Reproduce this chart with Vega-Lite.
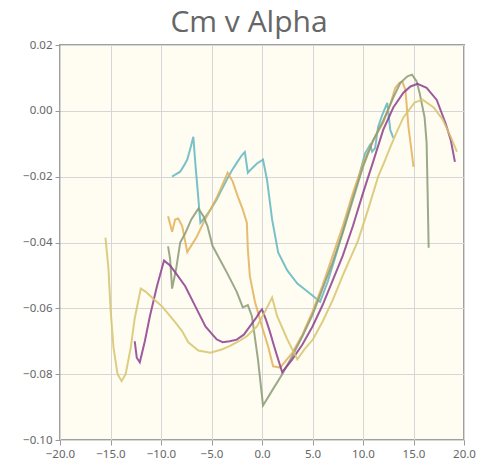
{
  "$schema": "https://vega.github.io/schema/vega-lite/v6.json",
  "width": 404,
  "height": 395,
  "autosize": {"type": "none"},
  "padding": {"left": 60, "top": 45, "right": 21, "bottom": 33},
  "background": "white",
  "title": {"text": "Cm v Alpha", "font": "Open Sans", "fontSize": 30, "fontWeight": "normal", "color": "#666666", "anchor": "middle", "frame": "bounds", "offset": 1},
  "config": {
    "view": {"fill": "#fffdf2", "stroke": "#a0a0a0", "strokeWidth": 2},
    "axis": {"labelFont": "Noto Sans", "labelFontSize": 11.5, "labelColor": "#666666", "gridColor": "#d6d6d6", "gridWidth": 1, "tickColor": "#999999", "tickSize": 5, "domain": false, "title": null, "labelPadding": 3, "labelOverlap": false, "labelBound": false, "labelFlush": false}
  },
  "datasets": {
    "d": [
      {"s":"T","a":-8.9,"cm":-0.0200},{"s":"T","a":-8.5,"cm":-0.0192},{"s":"T","a":-8.1,"cm":-0.0185},{"s":"T","a":-7.7,"cm":-0.0165},{"s":"T","a":-7.4,"cm":-0.0148},{"s":"T","a":-7.1,"cm":-0.0115},{"s":"T","a":-6.8,"cm":-0.0079},{"s":"T","a":-6.6,"cm":-0.0160},{"s":"T","a":-6.4,"cm":-0.0231},{"s":"T","a":-6.1,"cm":-0.0340},{"s":"T","a":-5.5,"cm":-0.0318},{"s":"T","a":-5.0,"cm":-0.0295},{"s":"T","a":-4.5,"cm":-0.0270},{"s":"T","a":-4.0,"cm":-0.0240},{"s":"T","a":-3.5,"cm":-0.0210},{"s":"T","a":-3.0,"cm":-0.0182},{"s":"T","a":-2.5,"cm":-0.0158},{"s":"T","a":-2.0,"cm":-0.0135},{"s":"T","a":-1.7,"cm":-0.0125},{"s":"T","a":-1.4,"cm":-0.0188},{"s":"T","a":-1.0,"cm":-0.0175},{"s":"T","a":-0.5,"cm":-0.0160},{"s":"T","a":0.1,"cm":-0.0148},{"s":"T","a":0.5,"cm":-0.0210},{"s":"T","a":1.0,"cm":-0.0330},{"s":"T","a":1.6,"cm":-0.0430},{"s":"T","a":2.5,"cm":-0.0485},{"s":"T","a":3.5,"cm":-0.0525},{"s":"T","a":4.75,"cm":-0.0555},{"s":"T","a":5.75,"cm":-0.0580},{"s":"T","a":6.5,"cm":-0.0520},{"s":"T","a":7.5,"cm":-0.0420},{"s":"T","a":8.5,"cm":-0.0310},{"s":"T","a":9.5,"cm":-0.0210},{"s":"T","a":10.2,"cm":-0.0130},{"s":"T","a":10.7,"cm":-0.0103},{"s":"T","a":10.9,"cm":-0.0124},{"s":"T","a":11.2,"cm":-0.0113},{"s":"T","a":11.5,"cm":-0.0048},{"s":"T","a":11.9,"cm":-0.0013},{"s":"T","a":12.4,"cm":0.0024},{"s":"T","a":12.7,"cm":-0.0058},{"s":"T","a":13.0,"cm":-0.0082},

      {"s":"G","a":-9.3,"cm":-0.0320},{"s":"G","a":-8.9,"cm":-0.0367},{"s":"G","a":-8.6,"cm":-0.0330},{"s":"G","a":-8.3,"cm":-0.0327},{"s":"G","a":-7.9,"cm":-0.0350},{"s":"G","a":-7.4,"cm":-0.0429},{"s":"G","a":-6.5,"cm":-0.0385},{"s":"G","a":-5.8,"cm":-0.0340},{"s":"G","a":-5.1,"cm":-0.0300},{"s":"G","a":-4.5,"cm":-0.0265},{"s":"G","a":-4.0,"cm":-0.0230},{"s":"G","a":-3.4,"cm":-0.0188},{"s":"G","a":-2.9,"cm":-0.0215},{"s":"G","a":-2.4,"cm":-0.0260},{"s":"G","a":-1.9,"cm":-0.0300},{"s":"G","a":-1.5,"cm":-0.0340},{"s":"G","a":-1.4,"cm":-0.0421},{"s":"G","a":-1.2,"cm":-0.0503},{"s":"G","a":-0.7,"cm":-0.0580},{"s":"G","a":0.0,"cm":-0.0655},{"s":"G","a":0.6,"cm":-0.0715},{"s":"G","a":1.1,"cm":-0.0776},{"s":"G","a":1.8,"cm":-0.0780},{"s":"G","a":3.0,"cm":-0.0735},{"s":"G","a":4.0,"cm":-0.0680},{"s":"G","a":5.0,"cm":-0.0610},{"s":"G","a":6.0,"cm":-0.0530},{"s":"G","a":7.0,"cm":-0.0440},{"s":"G","a":8.0,"cm":-0.0350},{"s":"G","a":9.0,"cm":-0.0250},{"s":"G","a":10.0,"cm":-0.0160},{"s":"G","a":11.0,"cm":-0.0090},{"s":"G","a":12.0,"cm":-0.0036},{"s":"G","a":12.7,"cm":0.0020},{"s":"G","a":13.2,"cm":0.0070},{"s":"G","a":13.6,"cm":0.0085},{"s":"G","a":13.9,"cm":0.0088},{"s":"G","a":14.2,"cm":0.0064},{"s":"G","a":14.5,"cm":-0.0049},{"s":"G","a":14.8,"cm":-0.0120},{"s":"G","a":15.0,"cm":-0.0170},

      {"s":"O","a":-9.3,"cm":-0.0412},{"s":"O","a":-9.1,"cm":-0.0450},{"s":"O","a":-8.9,"cm":-0.0540},{"s":"O","a":-8.5,"cm":-0.0480},{"s":"O","a":-8.1,"cm":-0.0400},{"s":"O","a":-7.6,"cm":-0.0372},{"s":"O","a":-7.0,"cm":-0.0330},{"s":"O","a":-6.3,"cm":-0.0297},{"s":"O","a":-5.8,"cm":-0.0320},{"s":"O","a":-5.4,"cm":-0.0350},{"s":"O","a":-4.9,"cm":-0.0410},{"s":"O","a":-4.2,"cm":-0.0450},{"s":"O","a":-3.5,"cm":-0.0490},{"s":"O","a":-2.5,"cm":-0.0550},{"s":"O","a":-1.9,"cm":-0.0597},{"s":"O","a":-1.4,"cm":-0.0590},{"s":"O","a":-1.0,"cm":-0.0624},{"s":"O","a":-0.4,"cm":-0.0755},{"s":"O","a":0.1,"cm":-0.0895},{"s":"O","a":1.0,"cm":-0.0850},{"s":"O","a":2.0,"cm":-0.0800},{"s":"O","a":3.0,"cm":-0.0745},{"s":"O","a":4.0,"cm":-0.0685},{"s":"O","a":5.0,"cm":-0.0620},{"s":"O","a":6.0,"cm":-0.0540},{"s":"O","a":7.0,"cm":-0.0460},{"s":"O","a":8.0,"cm":-0.0370},{"s":"O","a":9.0,"cm":-0.0270},{"s":"O","a":10.0,"cm":-0.0170},{"s":"O","a":11.0,"cm":-0.0090},{"s":"O","a":12.0,"cm":-0.0030},{"s":"O","a":13.0,"cm":0.0040},{"s":"O","a":13.7,"cm":0.0085},{"s":"O","a":14.4,"cm":0.0105},{"s":"O","a":14.85,"cm":0.0110},{"s":"O","a":15.3,"cm":0.0090},{"s":"O","a":15.6,"cm":0.0055},{"s":"O","a":16.1,"cm":-0.0020},{"s":"O","a":16.3,"cm":-0.0098},{"s":"O","a":16.4,"cm":-0.0250},{"s":"O","a":16.5,"cm":-0.0416},

      {"s":"P","a":-12.6,"cm":-0.0700},{"s":"P","a":-12.4,"cm":-0.0750},{"s":"P","a":-12.1,"cm":-0.0764},{"s":"P","a":-11.6,"cm":-0.0700},{"s":"P","a":-11.1,"cm":-0.0624},{"s":"P","a":-10.4,"cm":-0.0533},{"s":"P","a":-9.7,"cm":-0.0455},{"s":"P","a":-9.1,"cm":-0.0470},{"s":"P","a":-8.6,"cm":-0.0490},{"s":"P","a":-7.6,"cm":-0.0533},{"s":"P","a":-6.6,"cm":-0.0594},{"s":"P","a":-5.6,"cm":-0.0655},{"s":"P","a":-4.9,"cm":-0.0680},{"s":"P","a":-4.5,"cm":-0.0694},{"s":"P","a":-3.9,"cm":-0.0703},{"s":"P","a":-3.2,"cm":-0.0700},{"s":"P","a":-2.5,"cm":-0.0695},{"s":"P","a":-1.8,"cm":-0.0680},{"s":"P","a":-1.2,"cm":-0.0655},{"s":"P","a":-0.6,"cm":-0.0630},{"s":"P","a":-0.2,"cm":-0.0610},{"s":"P","a":0.0,"cm":-0.0603},{"s":"P","a":0.4,"cm":-0.0635},{"s":"P","a":0.8,"cm":-0.0673},{"s":"P","a":1.2,"cm":-0.0715},{"s":"P","a":1.6,"cm":-0.0755},{"s":"P","a":2.0,"cm":-0.0794},{"s":"P","a":3.0,"cm":-0.0755},{"s":"P","a":4.0,"cm":-0.0710},{"s":"P","a":5.0,"cm":-0.0655},{"s":"P","a":6.0,"cm":-0.0590},{"s":"P","a":7.0,"cm":-0.0515},{"s":"P","a":8.0,"cm":-0.0440},{"s":"P","a":9.0,"cm":-0.0350},{"s":"P","a":10.0,"cm":-0.0250},{"s":"P","a":11.0,"cm":-0.0155},{"s":"P","a":12.0,"cm":-0.0058},{"s":"P","a":13.0,"cm":0.0010},{"s":"P","a":14.0,"cm":0.0055},{"s":"P","a":14.7,"cm":0.0074},{"s":"P","a":15.4,"cm":0.0082},{"s":"P","a":16.3,"cm":0.0070},{"s":"P","a":17.3,"cm":0.0033},{"s":"P","a":18.2,"cm":-0.0040},{"s":"P","a":18.7,"cm":-0.0090},{"s":"P","a":19.1,"cm":-0.0155},

      {"s":"Y","a":-15.5,"cm":-0.0385},{"s":"Y","a":-15.2,"cm":-0.0480},{"s":"Y","a":-15.0,"cm":-0.0600},{"s":"Y","a":-14.7,"cm":-0.0720},{"s":"Y","a":-14.3,"cm":-0.0800},{"s":"Y","a":-13.9,"cm":-0.0821},{"s":"Y","a":-13.5,"cm":-0.0800},{"s":"Y","a":-13.0,"cm":-0.0720},{"s":"Y","a":-12.6,"cm":-0.0630},{"s":"Y","a":-12.0,"cm":-0.0540},{"s":"Y","a":-11.5,"cm":-0.0550},{"s":"Y","a":-10.8,"cm":-0.0570},{"s":"Y","a":-9.9,"cm":-0.0594},{"s":"Y","a":-9.2,"cm":-0.0620},{"s":"Y","a":-8.6,"cm":-0.0642},{"s":"Y","a":-7.9,"cm":-0.0670},{"s":"Y","a":-7.3,"cm":-0.0703},{"s":"Y","a":-6.3,"cm":-0.0728},{"s":"Y","a":-5.1,"cm":-0.0735},{"s":"Y","a":-4.0,"cm":-0.0725},{"s":"Y","a":-3.2,"cm":-0.0715},{"s":"Y","a":-2.3,"cm":-0.0700},{"s":"Y","a":-1.5,"cm":-0.0685},{"s":"Y","a":-0.5,"cm":-0.0655},{"s":"Y","a":0.3,"cm":-0.0610},{"s":"Y","a":1.0,"cm":-0.0567},{"s":"Y","a":1.5,"cm":-0.0624},{"s":"Y","a":2.5,"cm":-0.0694},{"s":"Y","a":3.5,"cm":-0.0755},{"s":"Y","a":4.2,"cm":-0.0725},{"s":"Y","a":5.05,"cm":-0.0694},{"s":"Y","a":6.0,"cm":-0.0640},{"s":"Y","a":7.0,"cm":-0.0575},{"s":"Y","a":8.0,"cm":-0.0500},{"s":"Y","a":9.0,"cm":-0.0430},{"s":"Y","a":9.5,"cm":-0.0395},{"s":"Y","a":10.5,"cm":-0.0300},{"s":"Y","a":11.5,"cm":-0.0200},{"s":"Y","a":12.2,"cm":-0.0149},{"s":"Y","a":12.7,"cm":-0.0110},{"s":"Y","a":13.4,"cm":-0.0060},{"s":"Y","a":14.0,"cm":-0.0020},{"s":"Y","a":15.1,"cm":0.0025},{"s":"Y","a":15.9,"cm":0.0034},{"s":"Y","a":17.0,"cm":0.0010},{"s":"Y","a":17.9,"cm":-0.0027},{"s":"Y","a":18.7,"cm":-0.0080},{"s":"Y","a":19.3,"cm":-0.0125}
    ]
  },
  "data": {"name": "d"},
  "mark": {"type": "line", "strokeWidth": 2, "opacity": 0.85, "clip": true},
  "encoding": {
    "x": {"field": "a", "type": "quantitative", "scale": {"domain": [-20, 20], "nice": false, "zero": false}, "axis": {"values": [-20, -15, -10, -5, 0, 5, 10, 15, 20], "format": ".1f", "grid": true}},
    "y": {"field": "cm", "type": "quantitative", "scale": {"domain": [-0.1, 0.02], "nice": false, "zero": false}, "axis": {"values": [-0.1, -0.08, -0.06, -0.04, -0.02, 0, 0.02], "format": ".2f", "grid": true}},
    "color": {"field": "s", "type": "nominal", "legend": null, "scale": {"domain": ["T", "G", "O", "P", "Y"], "range": ["#62b6c1", "#e2b05a", "#8a9a76", "#8c3d8e", "#d6c46c"]}}
  }
}
